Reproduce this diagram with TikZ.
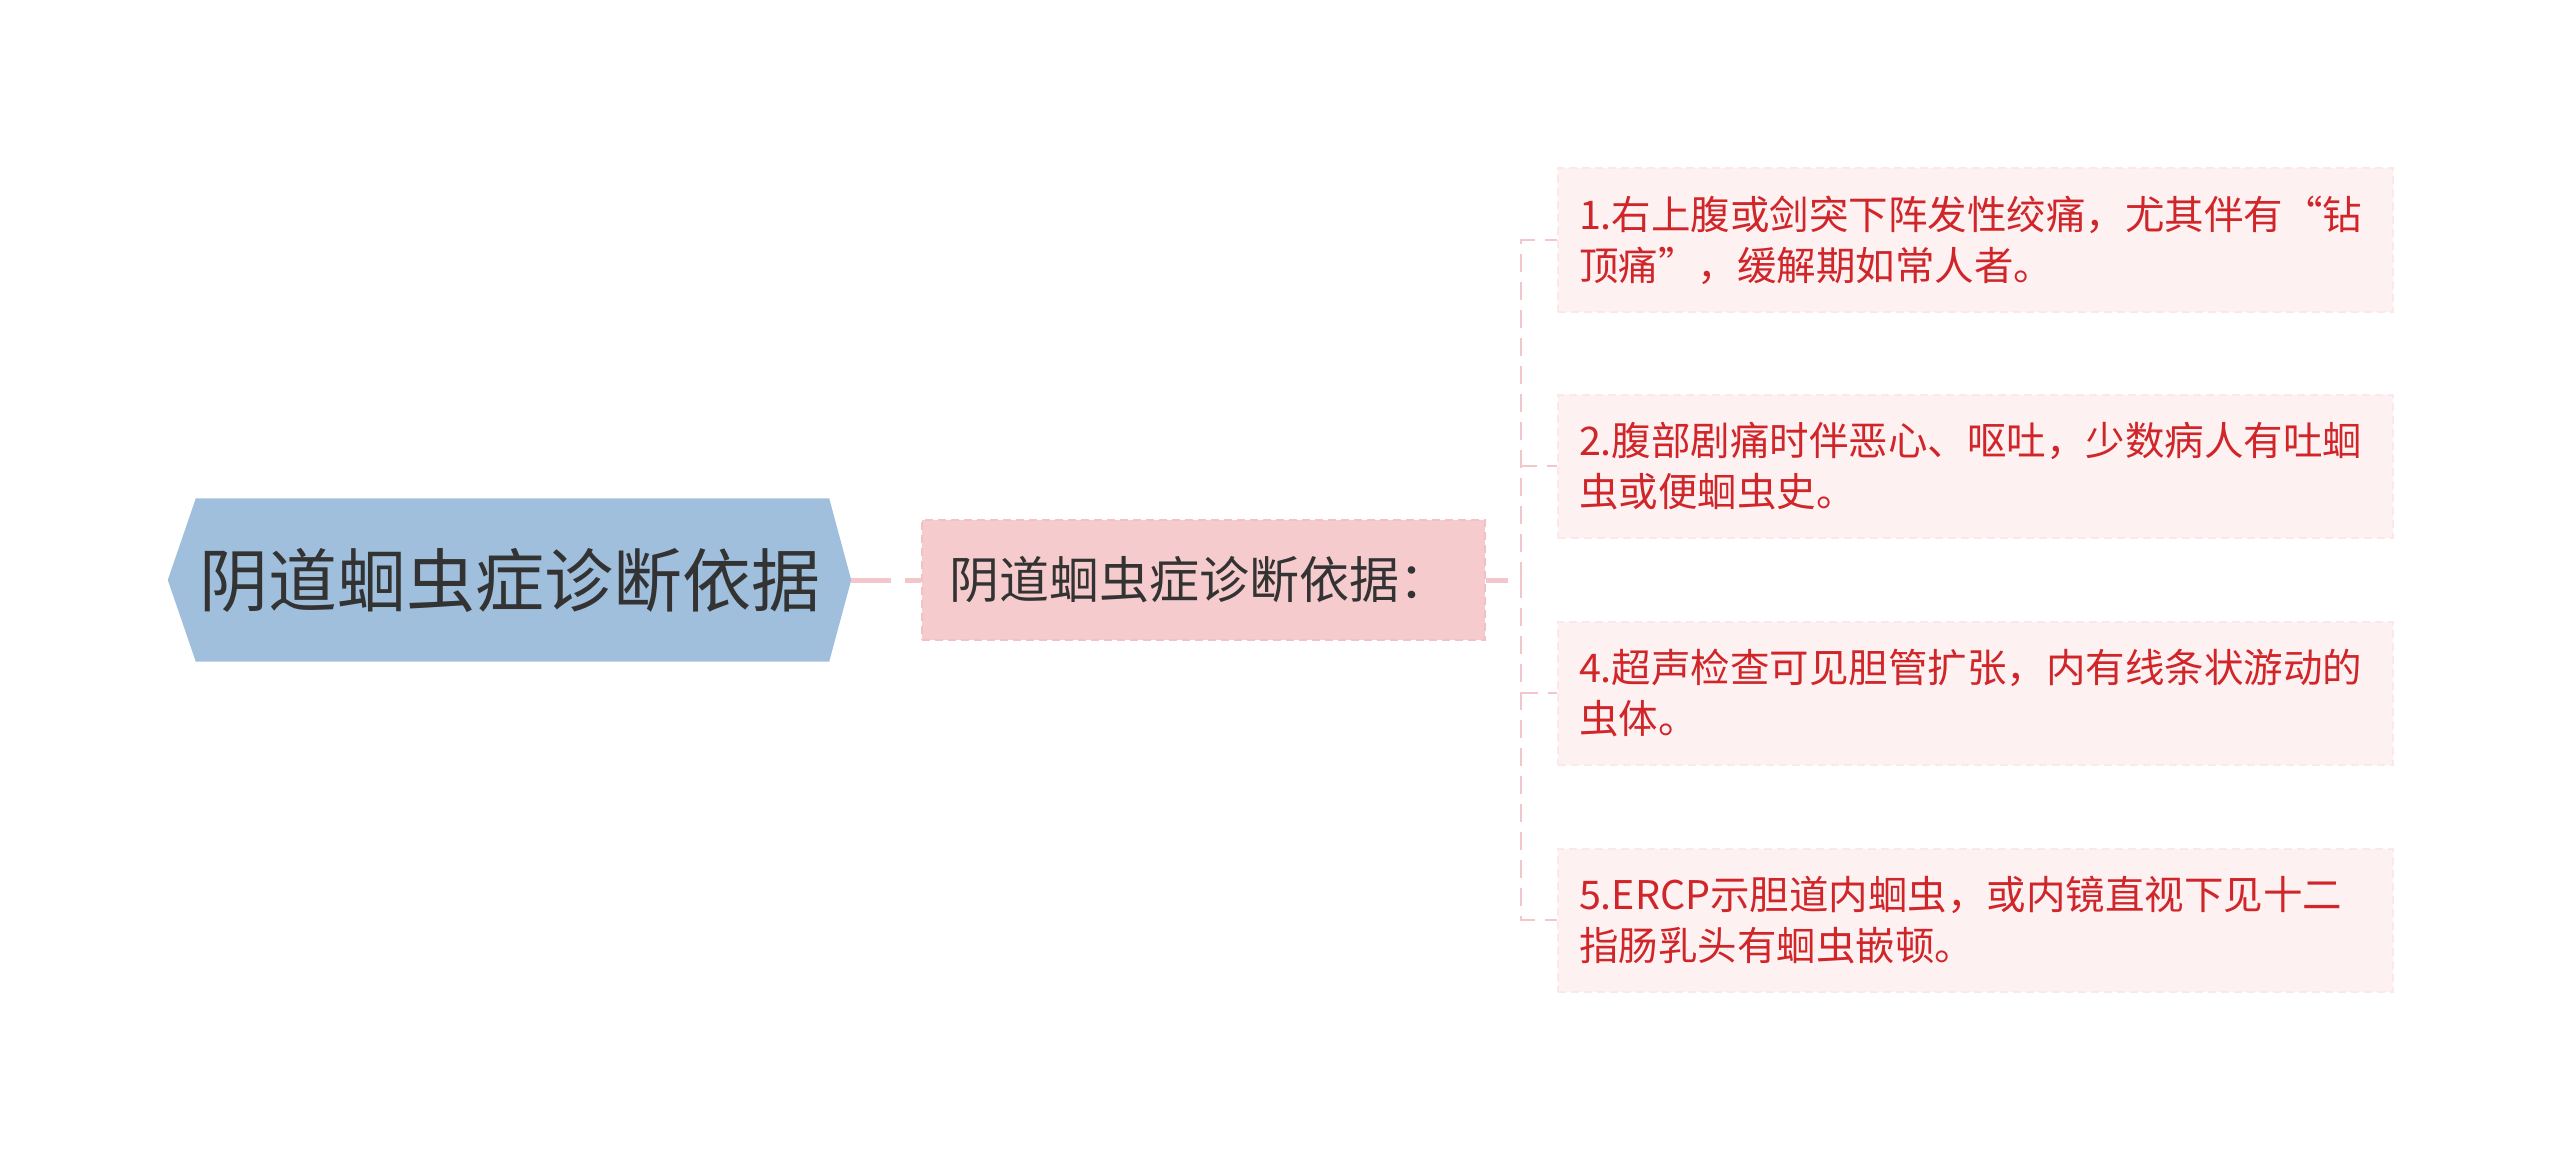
\documentclass[tikz,border=0pt]{standalone}
\usepackage{fontspec}
\setmainfont{Noto Sans CJK SC}
\usetikzlibrary{backgrounds}
\definecolor{rootfill}{HTML}{9FBFDC}
\definecolor{darktext}{HTML}{333333}
\definecolor{midfill}{HTML}{F6CBCD}
\definecolor{midborder}{HTML}{F3C0C3}
\definecolor{leaffill}{HTML}{FDF1F2}
\definecolor{leafborder}{HTML}{FBE8EA}
\definecolor{leaftext}{HTML}{D0262A}
\definecolor{connpink}{HTML}{F2C6CA}
\tikzset{
  rootbox/.style={minimum width=683pt, minimum height=163pt, inner sep=0pt,
    text=darktext, font=\fontsize{69}{72}\selectfont},
  midbox/.style={minimum width=563pt, minimum height=120pt, inner xsep=27pt, inner ysep=0pt,
    text width=509pt, align=left, fill=midfill, draw=midborder, line width=2pt,
    dash pattern=on 8pt off 5pt, text=darktext, font=\fontsize{50}{56}\selectfont},
  leafbox/.style={minimum width=835pt, minimum height=143pt, inner xsep=21pt, inner ysep=0pt,
    text width=793pt, align=left, fill=leaffill, draw=leafborder, line width=2pt,
    dash pattern=on 8pt off 5pt, text=leaftext, font=\fontsize{39.5}{51}\selectfont, anchor=west},
  thickconn/.style={draw=connpink, line width=5pt, dash pattern=on 40pt off 14pt},
  conn/.style={draw=connpink, line width=2.5pt, dash pattern=on 18pt off 10pt},
}
\begin{document}
\begin{tikzpicture}[x=1pt,y=-1pt]
\useasboundingbox (0,0) rectangle (2560,1161);
\node[rootbox] (root) at (509.5,580) {阴道蛔虫症诊断依据};
\begin{scope}[on background layer]
\fill[rootfill] (root.west) -- ([xshift=28pt]root.north west) -- ([xshift=-22pt]root.north east)
  -- (root.east) -- ([xshift=-22pt]root.south east) -- ([xshift=28pt]root.south west) -- cycle;
\end{scope}
\node[midbox] (mid) at (1203.5,580) {阴道蛔虫症诊断依据：};
\node[leafbox] (b1) at (1557,240) {1.右上腹或剑突下阵发性绞痛，尤其伴有“钻\\顶痛”，缓解期如常人者。};
\node[leafbox] (b2) at (1557,466) {2.腹部剧痛时伴恶心、呕吐，少数病人有吐蛔\\虫或便蛔虫史。};
\node[leafbox] (b4) at (1557,693) {4.超声检查可见胆管扩张，内有线条状游动的\\虫体。};
\node[leafbox] (b5) at (1557,920) {5.ERCP示胆道内蛔虫，或内镜直视下见十二\\指肠乳头有蛔虫嵌顿。};
\coordinate (j) at (1521,580);
\draw[thickconn] (root.east) -- (mid.west);
\draw[thickconn, dash pattern=on 22pt off 13pt] (mid.east) -- (j);
\draw[conn] (j) |- (b1.west);
\draw[conn] (j) |- (b2.west);
\draw[conn] (j) |- (b4.west);
\draw[conn] (j) |- (b5.west);
\end{tikzpicture}
\end{document}
